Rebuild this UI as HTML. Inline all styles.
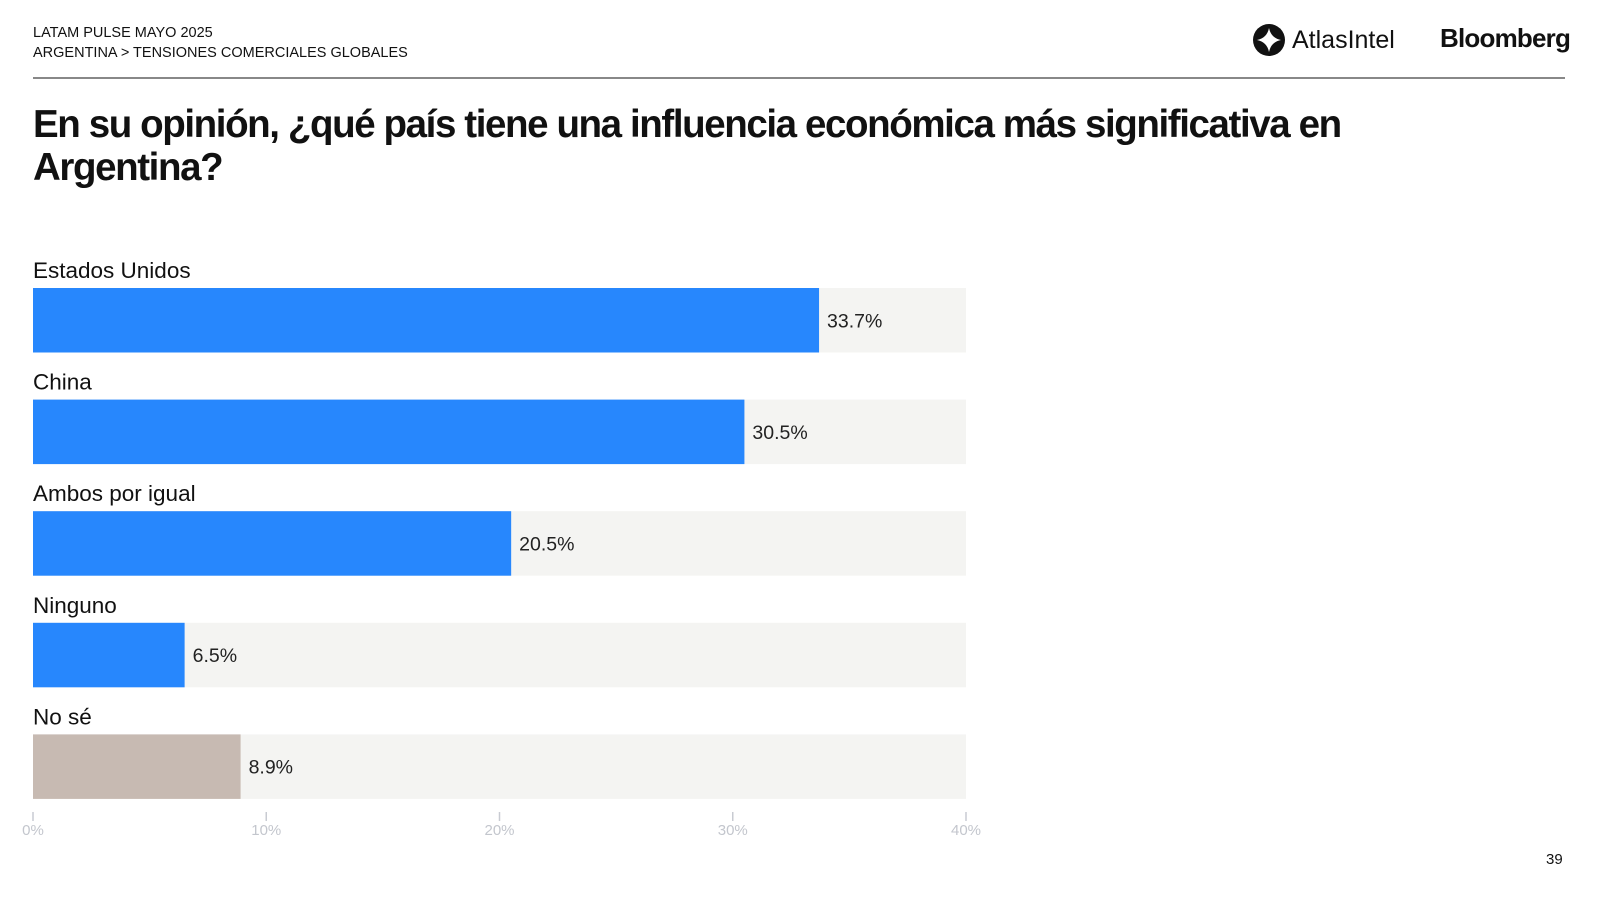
<!DOCTYPE html>
<html><head><meta charset="utf-8"><style>
body{margin:0;width:1600px;height:900px;background:#fff;font-family:"Liberation Sans",sans-serif;color:#111;position:relative;overflow:hidden}
.abs{position:absolute}
</style></head><body>
<div class="abs" style="left:33px;top:23px;font-size:14.5px;line-height:20px">LATAM PULSE MAYO 2025<br>ARGENTINA &gt; TENSIONES COMERCIALES GLOBALES</div>
<div class="abs" style="left:1252px;top:23px;display:flex;align-items:center">
<svg width="34" height="34" viewBox="0 0 34 34"><circle cx="17" cy="17" r="16" fill="#111"/><path d="M17 5 Q19 15 29 17 Q19 19 17 29 Q15 19 5 17 Q15 15 17 5Z" fill="#fff"/></svg>
<span style="font-size:25px;margin-left:6px">AtlasIntel</span></div>
<div class="abs" style="left:1440px;top:23px;font-size:26px;font-weight:bold;letter-spacing:-0.8px">Bloomberg</div>
<div class="abs" style="left:33px;top:77px;width:1532px;height:2px;background:#888"></div>
<div class="abs" style="left:33px;top:103px;font-size:38.5px;font-weight:bold;line-height:43px;letter-spacing:-1.4px;width:1400px">En su opinión, ¿qué país tiene una influencia económica más significativa en<br>Argentina?</div>
<svg class="abs" style="left:0;top:0" width="1600" height="900" id="chart"></svg>
<div class="abs" style="left:1546px;top:851px;font-size:15px">39</div>
<script>
const categories=["Estados Unidos","China","Ambos por igual","Ninguno","No sé"];
const values=[33.7,30.5,20.5,6.5,8.9];
const valueLabels=["33.7%","30.5%","20.5%","6.5%","8.9%"];
const ticks=[0,10,20,30,40];
const tickLabels=["0%","10%","20%","30%","40%"];
const NS="http://www.w3.org/2000/svg";
const svg=document.getElementById('chart');
const x0=33,x1=966,max=40;
const xs=v=>x0+(x1-x0)*v/max;
const yTop=i=>288+i*111.6, bh=64.5;
function mk(t,a){const e=document.createElementNS(NS,t);for(const k in a)e.setAttribute(k,a[k]);svg.appendChild(e);return e;}
categories.forEach((c,i)=>{
 const lab=mk('text',{x:x0,y:yTop(i)-10,'font-size':22.5,fill:'#111','font-family':'Liberation Sans, sans-serif'});lab.textContent=c;
 
 
 const tr=mk('rect',{x:x0,y:yTop(i),width:x1-x0,height:bh,fill:'#f4f4f2'});
 
 
 const b=mk('rect',{x:x0,y:yTop(i),width:xs(values[i])-x0,height:bh,fill:c==="No sé"?'#c7bab2':'#2787fd'});
 
 
 const v=mk('text',{x:xs(values[i])+8,y:yTop(i)+bh/2+7,'font-size':19.5,fill:'#222','font-family':'Liberation Sans, sans-serif'});v.textContent=valueLabels[i];
 
 
});
ticks.forEach((t,i)=>{
 const l=mk('line',{x1:xs(t),x2:xs(t),y1:812,y2:821,stroke:'#c8cbd2','stroke-width':1.5});
 
 
 const tx=mk('text',{x:xs(t),y:835,'font-size':15,fill:'#c3c6cd','text-anchor':'middle','font-family':'Liberation Sans, sans-serif'});tx.textContent=tickLabels[i];
 
 
});
</script>
</body></html>
